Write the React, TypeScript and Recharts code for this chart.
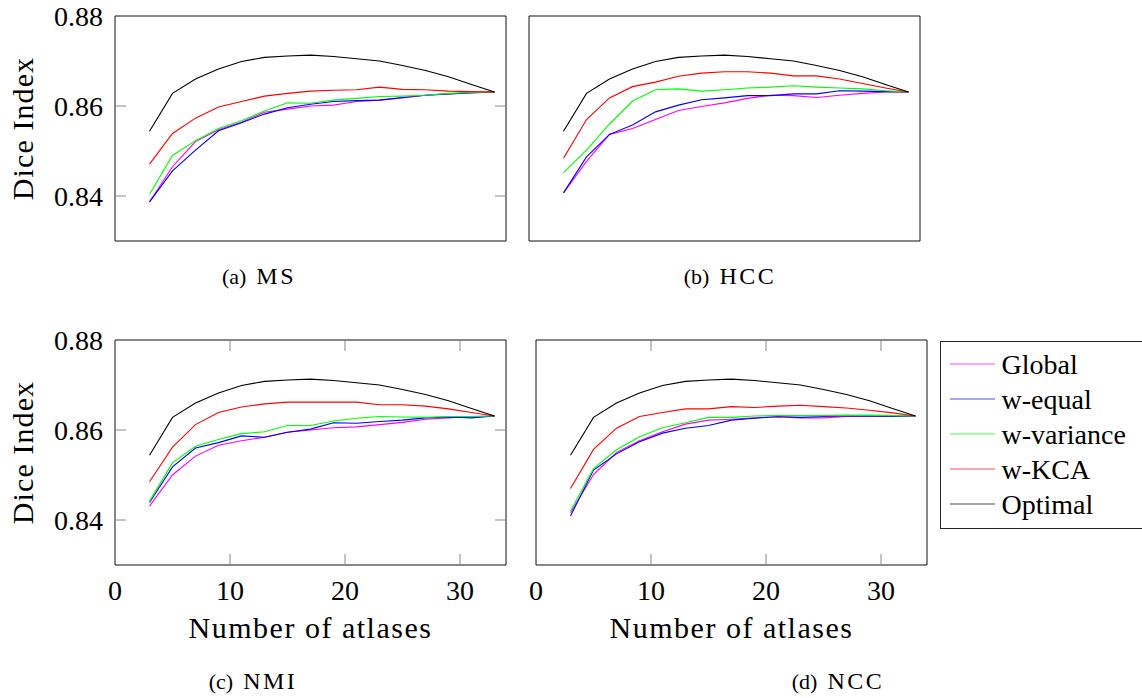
import React from 'react';
import { LineChart, Line, XAxis, YAxis, CartesianGrid, Legend, Label } from 'recharts';

const ATLASES = [3, 5, 7, 9, 11, 13, 15, 17, 19, 21, 23, 25, 27, 29, 31, 33];
const X_TICKS = [0, 10, 20, 30];
const Y_TICKS = [0.84, 0.86, 0.88];
const X_DOMAIN: [number, number] = [0, 34];
const Y_DOMAIN: [number, number] = [0.83, 0.88];

// same optimal curve in every panel
const OPTIMAL = [0.8544, 0.8628, 0.866, 0.8682, 0.8699, 0.8708, 0.8711, 0.8713, 0.871, 0.8705, 0.87, 0.869, 0.8679, 0.8665, 0.8648, 0.8631];

const MS_GLOBAL = [0.8387, 0.8465, 0.8521, 0.8547, 0.8564, 0.8586, 0.8593, 0.86, 0.8602, 0.861, 0.8613, 0.8618, 0.8624, 0.8627, 0.863, 0.8631];
const MS_EQUAL = [0.8387, 0.8456, 0.8502, 0.8545, 0.8563, 0.8582, 0.8596, 0.8604, 0.861, 0.8612, 0.8613, 0.8619, 0.8624, 0.8627, 0.8629, 0.8631];
const MS_VARIANCE = [0.8404, 0.849, 0.8523, 0.855, 0.8567, 0.8589, 0.8607, 0.8606, 0.8613, 0.8617, 0.8621, 0.8622, 0.8624, 0.8628, 0.863, 0.8631];
const MS_KCA = [0.8471, 0.8539, 0.8573, 0.8598, 0.861, 0.8622, 0.8628, 0.8633, 0.8635, 0.8636, 0.8642, 0.8637, 0.8636, 0.8633, 0.8632, 0.8631];

const HCC_GLOBAL = [0.8407, 0.8477, 0.8537, 0.855, 0.857, 0.859, 0.8599, 0.8607, 0.8617, 0.8624, 0.8623, 0.8619, 0.8624, 0.8628, 0.8631, 0.8631];
const HCC_EQUAL = [0.8407, 0.8487, 0.8537, 0.8558, 0.8587, 0.8602, 0.8614, 0.8618, 0.8623, 0.8623, 0.8627, 0.8627, 0.8634, 0.8633, 0.8632, 0.8631];
const HCC_VARIANCE = [0.8452, 0.8502, 0.856, 0.8611, 0.8636, 0.8638, 0.8633, 0.8636, 0.864, 0.8642, 0.8645, 0.8642, 0.864, 0.8638, 0.8634, 0.8631];
const HCC_KCA = [0.8484, 0.857, 0.8618, 0.8643, 0.8653, 0.8666, 0.8673, 0.8676, 0.8676, 0.8673, 0.8667, 0.8667, 0.866, 0.865, 0.864, 0.8631];

const NMI_GLOBAL = [0.8431, 0.85, 0.8542, 0.8566, 0.8576, 0.8584, 0.8595, 0.86, 0.8605, 0.8607, 0.8612, 0.8617, 0.8624, 0.8627, 0.863, 0.8631];
const NMI_EQUAL = [0.8439, 0.8518, 0.856, 0.8572, 0.8587, 0.8584, 0.8595, 0.8602, 0.8616, 0.8615, 0.8619, 0.8622, 0.8627, 0.8629, 0.8627, 0.8631];
const NMI_VARIANCE = [0.8442, 0.8527, 0.8564, 0.8579, 0.8592, 0.8596, 0.861, 0.861, 0.862, 0.8626, 0.863, 0.8629, 0.8628, 0.863, 0.863, 0.8631];
const NMI_KCA = [0.8485, 0.8562, 0.8612, 0.8639, 0.8651, 0.8658, 0.8662, 0.8662, 0.8662, 0.8662, 0.8656, 0.8656, 0.8653, 0.8647, 0.8639, 0.8631];

const NCC_GLOBAL = [0.8416, 0.8501, 0.855, 0.8576, 0.8596, 0.8613, 0.8622, 0.8624, 0.8627, 0.8629, 0.8627, 0.8627, 0.863, 0.863, 0.8631, 0.8631];
const NCC_EQUAL = [0.8409, 0.8511, 0.8547, 0.8574, 0.8593, 0.8604, 0.861, 0.8622, 0.8626, 0.863, 0.8628, 0.863, 0.8631, 0.8631, 0.863, 0.8631];
const NCC_VARIANCE = [0.842, 0.8514, 0.8556, 0.8585, 0.8605, 0.8616, 0.8628, 0.8628, 0.8631, 0.8632, 0.8632, 0.8632, 0.8633, 0.8633, 0.8632, 0.8631];
const NCC_KCA = [0.847, 0.8557, 0.8604, 0.863, 0.8639, 0.8647, 0.8647, 0.8652, 0.865, 0.8653, 0.8655, 0.8652, 0.8649, 0.8644, 0.8638, 0.8631];

const SERIES = [
  { key: 'global', name: 'Global', color: '#ff00ff' },
  { key: 'equal', name: 'w-equal', color: '#0000ff' },
  { key: 'variance', name: 'w-variance', color: '#00ff00' },
  { key: 'kca', name: 'w-KCA', color: '#ff0000' },
  { key: 'optimal', name: 'Optimal', color: '#000000' },
];

const buildRows = (g: number[], e: number[], v: number[], k: number[]) =>
  ATLASES.map((n, i) => ({ n, global: g[i], equal: e[i], variance: v[i], kca: k[i], optimal: OPTIMAL[i] }));

const MS_DATA = buildRows(MS_GLOBAL, MS_EQUAL, MS_VARIANCE, MS_KCA);
const HCC_DATA = buildRows(HCC_GLOBAL, HCC_EQUAL, HCC_VARIANCE, HCC_KCA);
const NMI_DATA = buildRows(NMI_GLOBAL, NMI_EQUAL, NMI_VARIANCE, NMI_KCA);
const NCC_DATA = buildRows(NCC_GLOBAL, NCC_EQUAL, NCC_VARIANCE, NCC_KCA);

const FONT = '"Liberation Serif", serif';
const PW = 391;
const PH = 225;
const TICK_LEN = 11;
const TICK_COLOR = '#8a8a8a';

function XTick(props: any) {
  const { x, y, payload, labels, marks } = props;
  const v = payload.value;
  const edge = v === X_DOMAIN[0] || v === X_DOMAIN[1];
  return (
    <g>
      {marks && !edge && (
        <>
          <line x1={x} x2={x} y1={y} y2={y - TICK_LEN} stroke={TICK_COLOR} />
          <line x1={x} x2={x} y1={y - PH} y2={y - PH + TICK_LEN} stroke={TICK_COLOR} />
        </>
      )}
      {labels && (
        <text x={x} y={y + 35} textAnchor="middle" style={{ fontFamily: FONT }} fontSize={28} fill="#000">
          {v}
        </text>
      )}
    </g>
  );
}

function YTick(props: any) {
  const { x, y, payload, labels, marks } = props;
  const v = payload.value;
  const edge = Math.abs(v - Y_DOMAIN[1]) < 1e-9 || Math.abs(v - Y_DOMAIN[0]) < 1e-9;
  return (
    <g>
      {marks && !edge && (
        <>
          <line x1={x} x2={x + TICK_LEN} y1={y} y2={y} stroke={TICK_COLOR} />
          <line x1={x + PW} x2={x + PW - TICK_LEN} y1={y} y2={y} stroke={TICK_COLOR} />
        </>
      )}
      {labels && (
        <text x={x - 12} y={y} dy="0.34em" textAnchor="end" style={{ fontFamily: FONT }} fontSize={28} fill="#000">
          {v.toFixed(2)}
        </text>
      )}
    </g>
  );
}

function LegendBox({ payload }: any) {
  // keep the series order instead of the alphabetical one
  const items = SERIES.map((s) => (payload || []).find((p: any) => p.value === s.name)).filter(Boolean);
  return (
    <div
      style={{
        border: '1px solid #222',
        background: '#fff',
        width: 204,
        padding: '5px 0 6px 0',
        fontFamily: FONT,
        fontSize: 28,
        boxSizing: 'border-box',
      }}
    >
      {items.map((p: any) => (
        <div key={p.value} style={{ display: 'flex', alignItems: 'center', height: 35 }}>
          <svg width={54} height={10} style={{ marginLeft: 9 }}>
            <line x1={0} x2={45} y1={5} y2={5} stroke={p.color} strokeWidth={1.2} strokeOpacity={0.7} />
          </svg>
          <span style={{ marginLeft: -2, color: '#000', lineHeight: '35px' }}>{p.value}</span>
        </div>
      ))}
    </div>
  );
}

interface PanelProps {
  data: any[];
  left: number;
  top: number;
  yLabels?: boolean;
  xLabels?: boolean;
  yMarks?: boolean;
  xMarks?: boolean;
  legend?: boolean;
}

function Panel({ data, left, top, yLabels, xLabels, yMarks, xMarks, legend }: PanelProps) {
  const padL = yLabels ? left : xLabels ? 24 : 4;
  const padB = xLabels ? 84 : 4;
  const padT = yLabels ? 16 : 4;
  const padR = legend ? 1142 - left - PW : 24;
  const chartLeft = left - padL;
  const chartTop = top - padT;
  return (
    <div style={{ position: 'absolute', left: chartLeft, top: chartTop }}>
      <LineChart
        width={padL + PW + padR}
        height={padT + PH + padB}
        data={data}
        margin={{ top: padT, right: padR, bottom: 0, left: 0 }}
      >
        <CartesianGrid
          stroke="#111"
          strokeWidth={1}
          horizontalCoordinatesGenerator={({ offset }: any) => [offset.top, offset.top + offset.height]}
          verticalCoordinatesGenerator={({ offset }: any) => [offset.left, offset.left + offset.width]}
        />
        <XAxis
          type="number"
          dataKey="n"
          domain={X_DOMAIN}
          ticks={X_TICKS}
          height={padB}
          axisLine={false}
          tickLine={false}
          tickSize={0}
          tickMargin={0}
          interval={0}
          tick={xLabels || xMarks ? (p: any) => <XTick {...p} labels={xLabels} marks={xMarks} /> : false}
        >
          {xLabels && (
            <Label
              content={({ viewBox }: any) => (
                <text
                  x={viewBox.x + viewBox.width / 2}
                  y={viewBox.y + 72.5}
                  textAnchor="middle"
                  style={{ fontFamily: FONT }}
                  fontSize={30}
                  letterSpacing={1.5}
                  fill="#000"
                >
                  Number of atlases
                </text>
              )}
            />
          )}
        </XAxis>
        <YAxis
          type="number"
          domain={Y_DOMAIN}
          ticks={Y_TICKS}
          width={padL}
          axisLine={false}
          tickLine={false}
          tickSize={0}
          tickMargin={0}
          interval={0}
          tick={yLabels || yMarks ? (p: any) => <YTick {...p} labels={yLabels} marks={yMarks} /> : false}
        >
          {yLabels && (
            <Label
              content={({ viewBox }: any) => {
                const cx = viewBox.x + 33;
                const cy = viewBox.y + viewBox.height / 2;
                return (
                  <text
                    x={cx}
                    y={cy}
                    transform={`rotate(-90, ${cx}, ${cy})`}
                    textAnchor="middle"
                    style={{ fontFamily: FONT }}
                    fontSize={30}
                    letterSpacing={1.1}
                    fill="#000"
                  >
                    Dice Index
                  </text>
                );
              }}
            />
          )}
        </YAxis>
        {SERIES.map((s) => (
          <Line
            key={s.key}
            type="linear"
            dataKey={s.key}
            name={s.name}
            stroke={s.color}
            strokeWidth={1.1}
            dot={false}
            activeDot={false}
            isAnimationActive={false}
          />
        ))}
        {legend && (
          <Legend
            layout="vertical"
            align="center"
            verticalAlign="middle"
            content={<LegendBox />}
            wrapperStyle={{ left: 939.5 - chartLeft, top: 340.5 - chartTop, width: 204, height: 'auto' }}
          />
        )}
      </LineChart>
    </div>
  );
}

const CAPTIONS = [
  { tag: '(a)', name: 'MS', x: 259, y: 284 },
  { tag: '(b)', name: 'HCC', x: 730, y: 284 },
  { tag: '(c)', name: 'NMI', x: 253, y: 689 },
  { tag: '(d)', name: 'NCC', x: 838, y: 689 },
];

export default function App() {
  return (
    <div
      style={{
        position: 'absolute',
        left: 0,
        top: 0,
        width: 1142,
        height: 698,
        overflow: 'hidden',
        background: '#fff',
        fontFamily: FONT,
      }}
    >
      <svg width={1142} height={698} style={{ position: 'absolute', left: 0, top: 0 }}>
        {CAPTIONS.map((c) => (
          <text key={c.tag} x={c.x} y={c.y} textAnchor="middle" style={{ fontFamily: FONT }} fill="#000">
            <tspan fontSize={22}>{c.tag}</tspan>
            <tspan dx={10} fontSize={24} letterSpacing={2.5}>
              {c.name}
            </tspan>
          </text>
        ))}
      </svg>
      <Panel data={MS_DATA} left={115} top={16} yLabels yMarks />
      <Panel data={HCC_DATA} left={529} top={16} />
      <Panel data={NMI_DATA} left={115} top={340} yLabels xLabels yMarks xMarks />
      <Panel data={NCC_DATA} left={536} top={340} xLabels xMarks legend />
    </div>
  );
}
